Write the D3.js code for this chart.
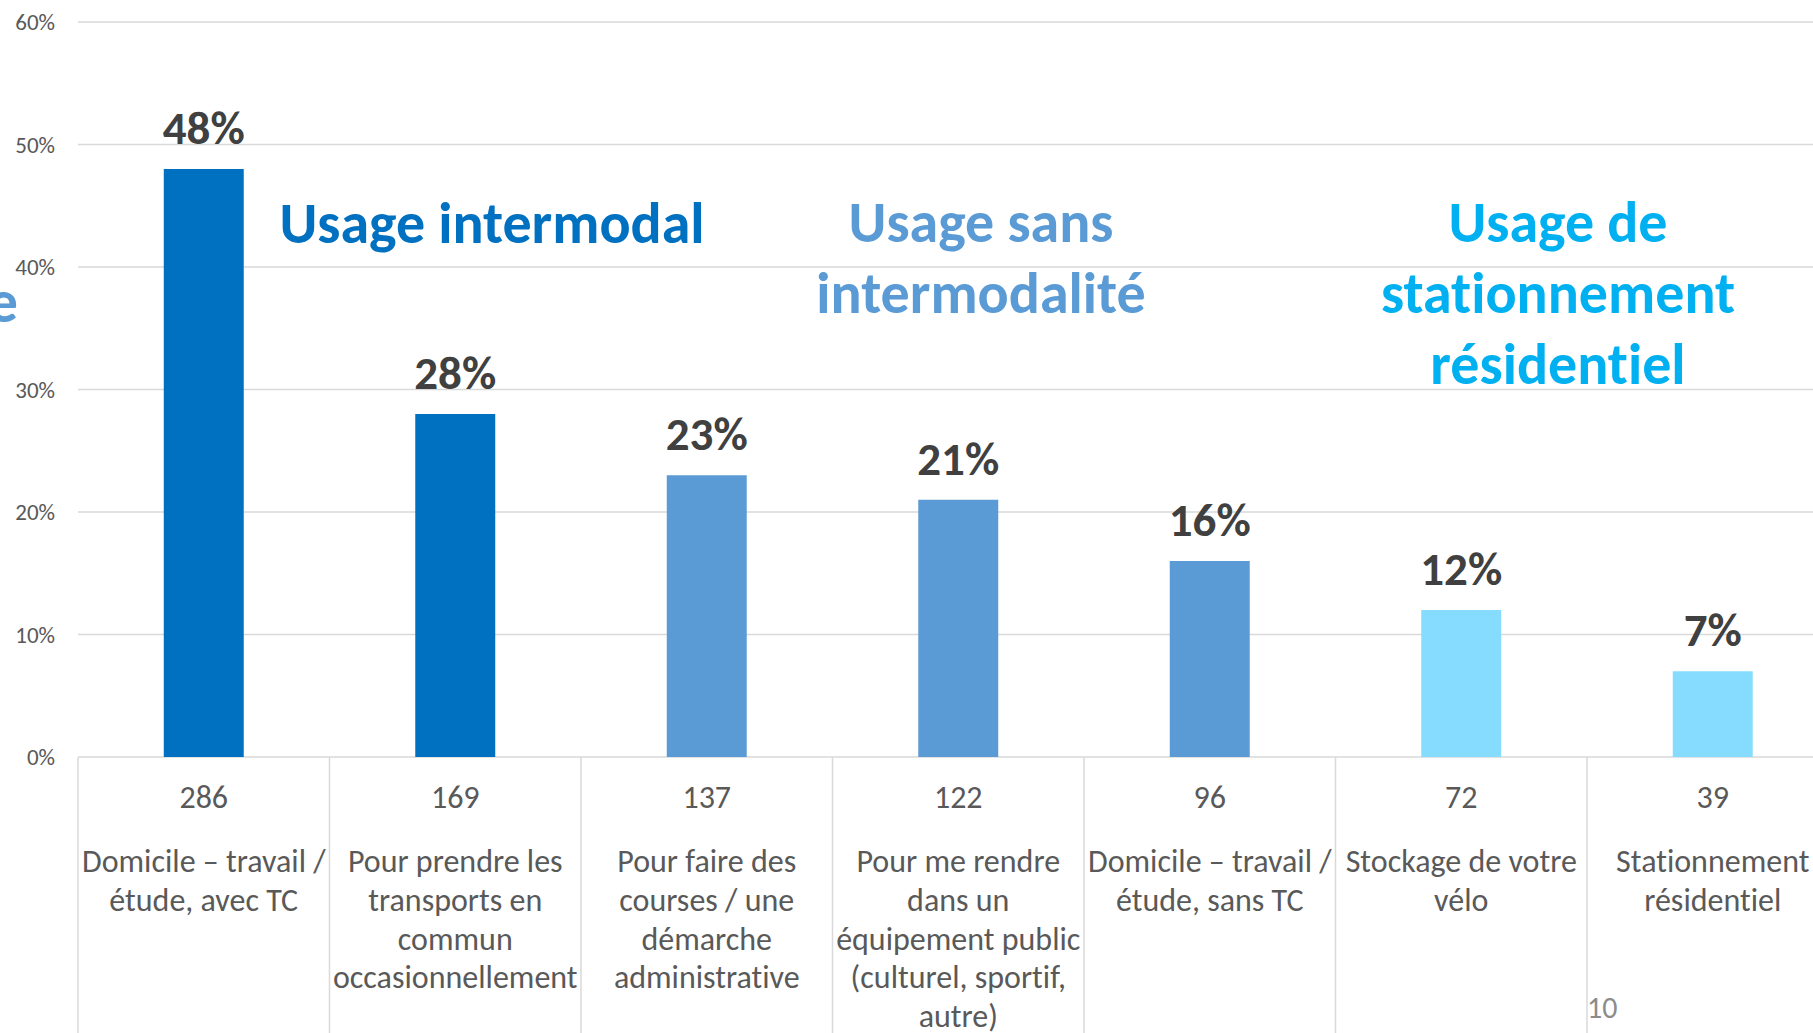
<!DOCTYPE html>
<html><head><meta charset="utf-8">
<script src="https://cdn.jsdelivr.net/npm/d3@7"></script>
<style>
html,body{margin:0;padding:0;background:#fff;overflow:hidden;}
svg{display:block;}
text{font-family:Carlito, Calibri, Lato, "Open Sans", sans-serif;font-variant-ligatures:none;font-feature-settings:"liga" 0;}
</style></head>
<body>
<svg id="chart" width="1813" height="1033"></svg>
<script>
const categories = [
  "Domicile – travail /\nétude, avec TC",
  "Pour prendre les\ntransports en\ncommun\noccasionnellement",
  "Pour faire des\ncourses / une\ndémarche\nadministrative",
  "Pour me rendre\ndans un\néquipement public\n(culturel, sportif,\nautre)",
  "Domicile – travail /\nétude, sans TC",
  "Stockage de votre\nvélo",
  "Stationnement\nrésidentiel"
];
const values = [0.48, 0.28, 0.23, 0.21, 0.16, 0.12, 0.07];
const counts = [286, 169, 137, 122, 96, 72, 39];
const groups = ["intermodal","intermodal","sans","sans","sans","stationnement","stationnement"];
const yTicks = [0, 0.1, 0.2, 0.3, 0.4, 0.5, 0.6];
const groupLabels = [
  {key:"intermodal", lines:["Usage intermodal"]},
  {key:"sans", lines:["Usage sans","intermodalité"]},
  {key:"stationnement", lines:["Usage de","stationnement","résidentiel"]}
];
const pageNumber = "10";

const colors = {intermodal:"#0070C0", sans:"#5B9BD5", stationnement:"#85DCFF"};
const labelColors = {intermodal:"#0070C0", sans:"#5B9BD5", stationnement:"#00B0F0"};

const svg = d3.select("#chart");
const left = 78, band = 251.5;
const x = d3.scaleBand().domain(categories).range([left, left + band*categories.length]).padding(0);
const y = d3.scaleLinear().domain([0, 0.6]).range([757, 22]);
const barFrac = 0.318;
const bw = x.bandwidth()*barFrac;

// gridlines
svg.append("g").selectAll("line").data(yTicks).join("line")
  .attr("x1", left).attr("x2", 1813)
  .attr("y1", d=>y(d)).attr("y2", d=>y(d))
  .attr("stroke","#D9D9D9").attr("stroke-width",1.5);

// y tick labels
svg.append("g").selectAll("text").data(yTicks).join("text")
  .attr("x", 55).attr("y", d=>y(d)).attr("dy","0.35em")
  .attr("text-anchor","end").attr("fill","#595959").attr("font-size",23)
  .text(d=>d3.format(".0%")(d));

// category dividers
const divs = categories.map(c=>x(c));
svg.append("g").selectAll("line").data(divs).join("line")
  .attr("x1", d=>d).attr("x2", d=>d).attr("y1", y(0)).attr("y2", 1033)
  .attr("stroke","#D9D9D9").attr("stroke-width",1.5);

// bars
svg.append("g").selectAll("rect").data(categories).join("rect")
  .attr("x", (c)=>x(c)+(x.bandwidth()-bw)/2)
  .attr("width", bw)
  .attr("y", (c,i)=>y(values[i]))
  .attr("height", (c,i)=>y(0)-y(values[i]))
  .attr("fill", (c,i)=>colors[groups[i]]);

// value labels
svg.append("g").selectAll("text").data(categories).join("text")
  .attr("x", c=>x(c)+x.bandwidth()/2)
  .attr("y", (c,i)=>y(values[i])-25)
  .attr("text-anchor","middle").attr("font-weight","bold")
  .attr("font-size",47).attr("fill","#404040")
  .text((c,i)=>d3.format(".0%")(values[i]));

// counts
svg.append("g").selectAll("text").data(categories).join("text")
  .attr("x", c=>x(c)+x.bandwidth()/2)
  .attr("y", 808)
  .attr("text-anchor","middle").attr("font-size",32).attr("fill","#595959")
  .text((c,i)=>counts[i]);

// category labels
const cl = svg.append("g").selectAll("text").data(categories).join("text")
  .attr("x", c=>x(c)+x.bandwidth()/2)
  .attr("y", 872)
  .attr("text-anchor","middle").attr("font-size",32).attr("fill","#595959");
cl.selectAll("tspan").data(c=>c.split("\n").map(t=>({t, c}))).join("tspan")
  .attr("x", d=>x(d.c)+x.bandwidth()/2)
  .attr("dy", (d,i)=>i===0?0:38.8)
  .text(d=>d.t);

// group labels
const gpos = {intermodal:[492,243], sans:[981,242], stationnement:[1558,242]};
groupLabels.forEach(g=>{
  const t = svg.append("text")
    .attr("x", gpos[g.key][0]).attr("y", gpos[g.key][1])
    .attr("text-anchor","middle").attr("font-weight","bold")
    .attr("font-size",58).attr("fill",labelColors[g.key]);
  g.lines.forEach((ln,i)=>{
    t.append("tspan").attr("x", gpos[g.key][0]).attr("dy", i===0?0:71).text(ln);
  });
});

// clipped fragment at left edge
svg.append("text").attr("x",18).attr("y",322).attr("text-anchor","end")
  .attr("font-weight","bold").attr("font-size",60).attr("fill","#5B9BD5").text("e");

// page number
svg.append("text").attr("x",1587).attr("y",1018).attr("font-size",30)
  .attr("fill","#8C8C8C").text(pageNumber);
</script>
</body></html>
